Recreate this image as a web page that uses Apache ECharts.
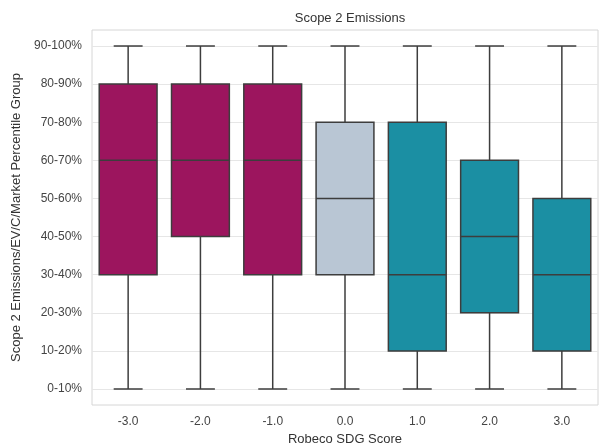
<!DOCTYPE html>
<html>
<head>
<meta charset="utf-8">
<script src="https://cdn.jsdelivr.net/npm/echarts@6/dist/echarts.min.js"></script>
<style>html,body{margin:0;padding:0;background:#fff;}#chart{width:599px;height:448px;}</style>
</head>
<body>
<div id="chart"></div>
<script>
const categories = ['-3.0', '-2.0', '-1.0', '0.0', '1.0', '2.0', '3.0'];
const yLabels = ['0-10%', '10-20%', '20-30%', '30-40%', '40-50%', '50-60%', '60-70%', '70-80%', '80-90%', '90-100%'];
const whiskerLow = [0, 0, 0, 0, 0, 0, 0];
const q1 = [3, 4, 3, 3, 1, 2, 1];
const median = [6, 6, 6, 5, 3, 4, 3];
const q3 = [8, 8, 8, 7, 7, 6, 5];
const whiskerHigh = [9, 9, 9, 9, 9, 9, 9];
const boxColors = ['#9c155e', '#9c155e', '#9c155e', '#b9c6d4', '#1b8fa3', '#1b8fa3', '#1b8fa3'];

const data = categories.map((c, i) => [i, whiskerLow[i], q1[i], median[i], q3[i], whiskerHigh[i]]);
const yTicks = yLabels.map((_, i) => i);

const chart = echarts.init(document.getElementById('chart'), null, {renderer: 'canvas'});
const lineColor = '#3d3d3d';
chart.setOption({
  animation: false,
  backgroundColor: '#fff',
  title: {
    text: 'Scope 2 Emissions', left: 345, top: 7, textAlign: 'center',
    textStyle: {fontFamily: 'Liberation Sans', fontSize: 13, fontWeight: 'normal', color: '#333'}
  },
  grid: {left: 92, right: 1, top: 30, bottom: 43, show: true, borderColor: '#d6d6d6', borderWidth: 1,
    containLabel: false, outerBoundsMode: 'none'},
  xAxis: {
    type: 'category', data: categories, boundaryGap: true,
    name: 'Robeco SDG Score', nameLocation: 'middle', nameGap: 25,
    nameTextStyle: {fontFamily: 'Liberation Sans', fontSize: 13, color: '#333'},
    axisLine: {show: false}, axisTick: {show: false},
    axisLabel: {fontFamily: 'Liberation Sans', fontSize: 12, color: '#444', margin: 11},
    splitLine: {show: false}
  },
  yAxis: {
    type: 'value', min: -0.42, max: 9.42,
    name: 'Scope 2 Emissions/EV/C/Market Percentile Group', nameLocation: 'middle', nameGap: 66,
    nameTextStyle: {fontFamily: 'Liberation Sans', fontSize: 13, color: '#333'},
    axisLine: {show: false},
    axisTick: {show: false, customValues: yTicks},
    axisLabel: {
      customValues: yTicks, fontFamily: 'Liberation Sans', fontSize: 12, color: '#444', margin: 10,
      formatter: v => yLabels[Math.round(v)]
    },
    splitLine: {show: true, lineStyle: {color: '#e6e6e6', width: 1}}
  },
  series: [{
    type: 'custom',
    data: data,
    encode: {x: 0, y: [1, 2, 3, 4, 5]},
    renderItem: function (params, api) {
      const xi = api.value(0);
      const pLow = api.coord([xi, api.value(1)]);
      const pQ1 = api.coord([xi, api.value(2)]);
      const pMed = api.coord([xi, api.value(3)]);
      const pQ3 = api.coord([xi, api.value(4)]);
      const pHigh = api.coord([xi, api.value(5)]);
      const band = api.size([1, 0])[0];
      const bw = band * 0.8;
      const cw = bw / 2;
      const cx = pLow[0];
      const ls = {stroke: lineColor, lineWidth: 1.5};
      return {
        type: 'group',
        children: [
          {type: 'line', shape: {x1: cx, y1: pQ1[1], x2: cx, y2: pLow[1]}, style: ls},
          {type: 'line', shape: {x1: cx, y1: pQ3[1], x2: cx, y2: pHigh[1]}, style: ls},
          {type: 'line', shape: {x1: cx - cw / 2, y1: pLow[1], x2: cx + cw / 2, y2: pLow[1]}, style: ls},
          {type: 'line', shape: {x1: cx - cw / 2, y1: pHigh[1], x2: cx + cw / 2, y2: pHigh[1]}, style: ls},
          {type: 'rect', shape: {x: cx - bw / 2, y: pQ3[1], width: bw, height: pQ1[1] - pQ3[1]},
            style: {fill: boxColors[params.dataIndex], stroke: lineColor, lineWidth: 1.5}},
          {type: 'line', shape: {x1: cx - bw / 2, y1: pMed[1], x2: cx + bw / 2, y2: pMed[1]}, style: ls}
        ]
      };
    }
  }]
});
</script>
</body>
</html>
